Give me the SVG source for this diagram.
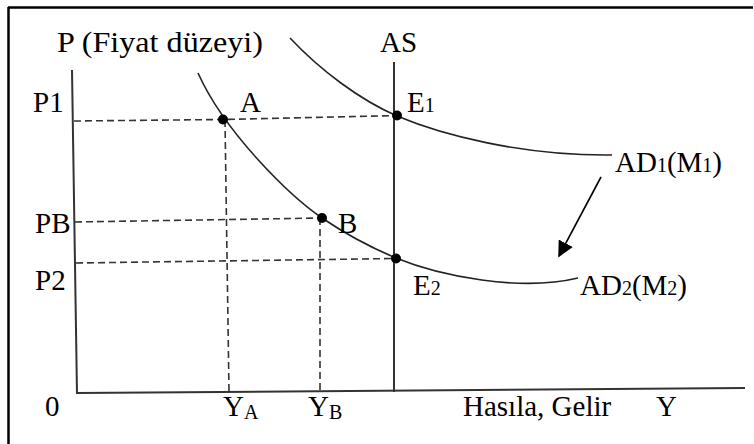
<svg xmlns="http://www.w3.org/2000/svg" width="754" height="444" viewBox="0 0 754 444">
<style>
text{font-family:"Liberation Serif","Times New Roman",serif;font-size:29px;fill:#000}
.sub{font-size:20px}
.ax{stroke:#333;stroke-width:2;fill:none}
.cv{stroke:#222;stroke-width:1.6;fill:none}
.dash{stroke:#333;stroke-width:1.6;stroke-dasharray:7,4;fill:none}
.dot{fill:#000}
</style>
<defs>
<marker id="ah" viewBox="0 0 10 10" refX="9" refY="5" markerWidth="16" markerHeight="16" markerUnits="userSpaceOnUse" orient="auto">
<path d="M0,0 L10,5 L0,10 z" fill="#000"/>
</marker>
</defs>
<g id="frame">
<line x1="8" y1="7.5" x2="753" y2="7.5" stroke="#000" stroke-width="2.5"/>
<line x1="8.5" y1="7" x2="8.5" y2="444" stroke="#000" stroke-width="2.5"/>
</g>
<g id="axes">
<line class="ax" x1="72" y1="70" x2="77" y2="394"/>
<line class="ax" x1="77" y1="393" x2="745" y2="388"/>
<line class="ax" x1="394" y1="62" x2="394" y2="392" stroke-width="1.6"/>
</g>
<g id="connectors">
<path class="dash" d="M74,121 L223,119.5 L397,115.5"/>
<path class="dash" d="M75,222 L322,218"/>
<path class="dash" d="M76,263 L396,258.5"/>
<path class="dash" d="M225,120 L229,391"/>
<path class="dash" d="M320,218 L320,390"/>
<path class="cv" d="M198,73 C225,133 290,196 322,218 C347,235 372,248 396,258 C440,276 520,292 578,278"/>
<path class="cv" d="M290,38 C320,70 360,100 397,116 C440,134 520,156 612,155"/>
<line x1="601" y1="177" x2="559" y2="256" stroke="#000" stroke-width="1.6" marker-end="url(#ah)"/>
</g>
<g id="points">
<circle class="dot" cx="223" cy="119.5" r="5"/>
<circle class="dot" cx="397" cy="115.5" r="5"/>
<circle class="dot" cx="322" cy="218" r="5"/>
<circle class="dot" cx="396" cy="258.5" r="5"/>
</g>
<g id="labels">
<text x="57" y="52" textLength="206" lengthAdjust="spacingAndGlyphs">P (Fiyat düzeyi)</text>
<text x="380" y="52">AS</text>
<text x="33" y="112">P1</text>
<text x="35" y="233">PB</text>
<text x="35" y="290">P2</text>
<text x="45" y="416">0</text>
<text x="240" y="112">A</text>
<text x="407" y="112">E<tspan class="sub">1</tspan></text>
<text x="338" y="233">B</text>
<text x="413" y="295">E<tspan class="sub">2</tspan></text>
<text x="615" y="172">AD<tspan class="sub">1</tspan>(M<tspan class="sub">1</tspan>)</text>
<text x="580" y="295">AD<tspan class="sub">2</tspan>(M<tspan class="sub">2</tspan>)</text>
<text x="223" y="416">Y<tspan class="sub" dy="3">A</tspan></text>
<text x="308" y="416">Y<tspan class="sub" dy="3">B</tspan></text>
<text x="463" y="416">Hasıla, Gelir</text>
<text x="656" y="416">Y</text>
</g>
</svg>
